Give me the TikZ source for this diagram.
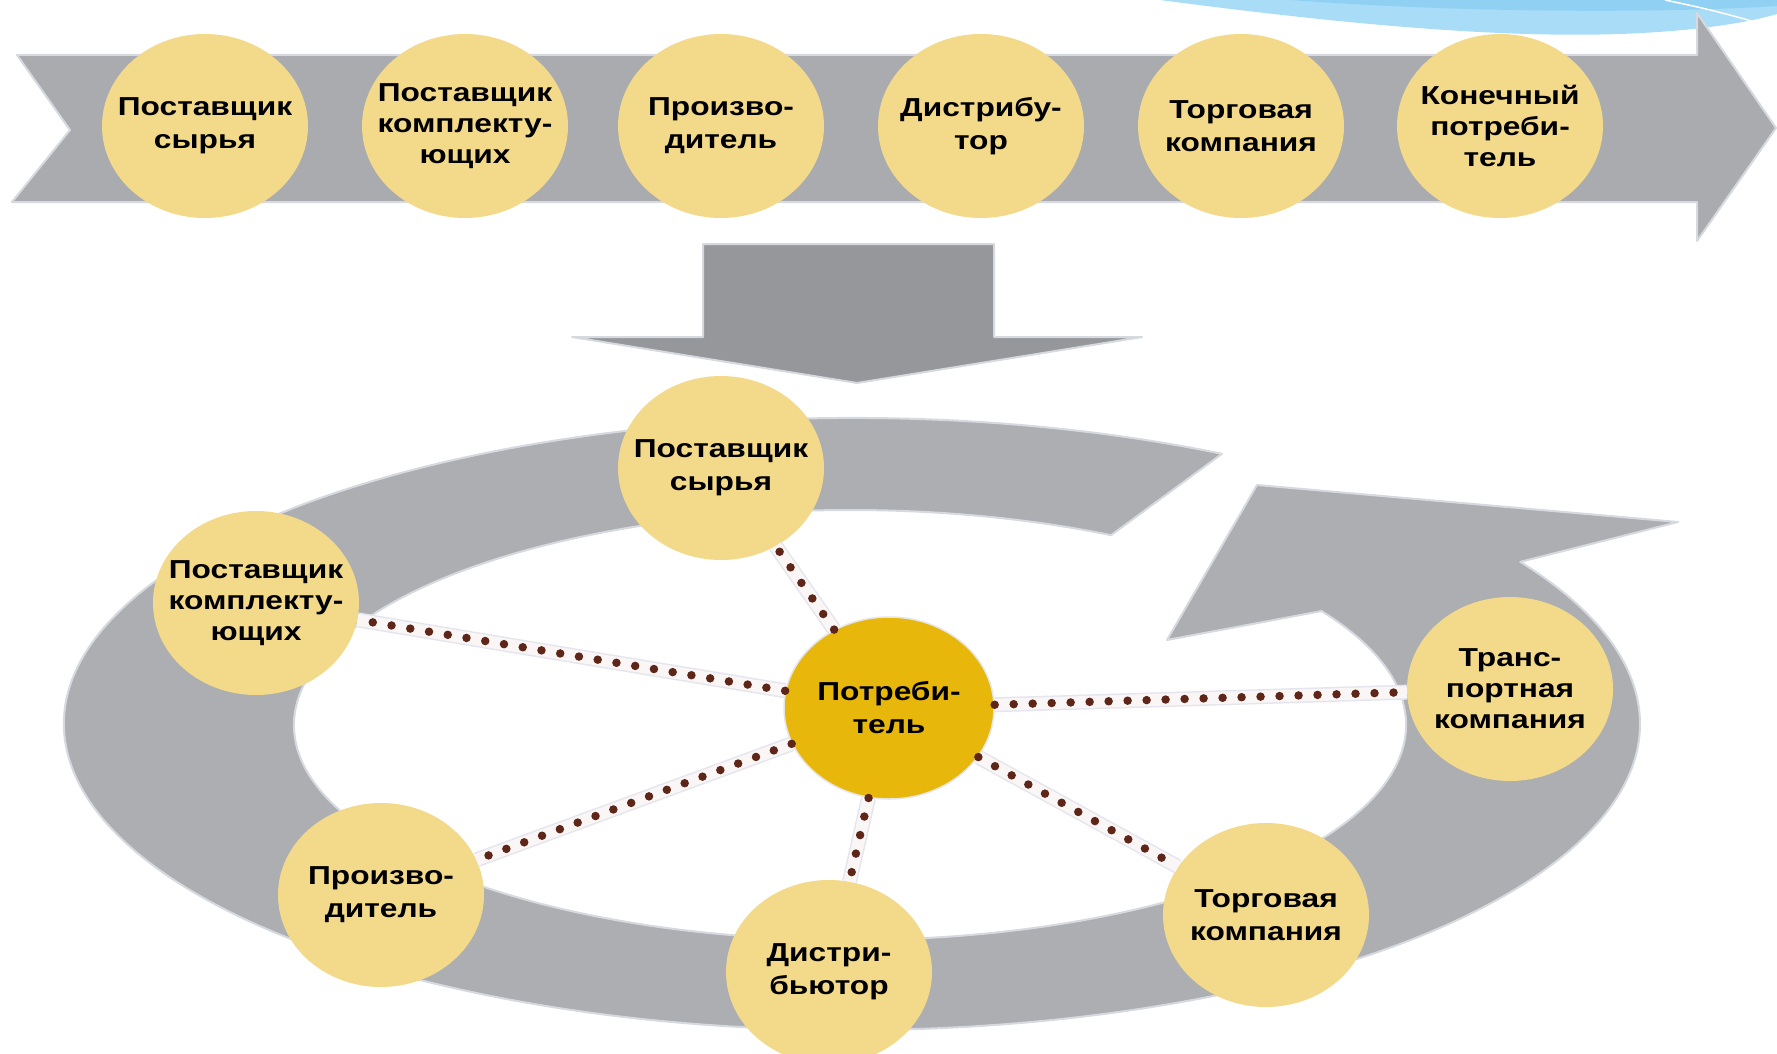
\documentclass[tikz,border=0pt]{standalone}
\usepackage{fontspec}
\setmainfont{Liberation Sans}[FakeStretch=1.22]
\usetikzlibrary{shapes.geometric}
\definecolor{bandgray}{HTML}{A9ABAF}
\definecolor{ringgray}{HTML}{ACAEB2}
\definecolor{downgray}{HTML}{96979B}
\definecolor{edgegray}{HTML}{D6D9DF}
\definecolor{bubblefill}{HTML}{F3DA8A}
\definecolor{corefill}{HTML}{E8B70C}
\definecolor{dotbrown}{HTML}{5E2618}
\definecolor{halo}{HTML}{FBF6F6}
\definecolor{haloedge}{HTML}{E4E5EF}
\definecolor{skylight}{HTML}{A9DCF7}
\definecolor{skydark}{HTML}{90D0F2}
\begin{document}
\begin{tikzpicture}[x=1pt,y=-1pt,
  bubble/.style={ellipse, fill=bubblefill, minimum width=206pt, minimum height=184pt, inner sep=0pt},
  hub/.style={ellipse, fill=corefill, draw=white!80!gray, line width=1.5pt, minimum width=210pt, minimum height=182pt, inner sep=0pt},
  caption/.style={align=center, inner sep=0pt, font=\bfseries\fontsize{26}{33}\selectfont},
  caption3/.style={align=center, inner sep=0pt, font=\bfseries\fontsize{26}{31}\selectfont},
  shapeedge/.style={draw=edgegray, line width=2pt, line join=round},
  dotline/.style={draw=dotbrown, line width=8.5pt, line cap=round, dash pattern=on 0pt off 19pt,
     preaction={draw=haloedge, line width=15pt, solid, line cap=butt},
     preaction={draw=halo, line width=12pt, solid, line cap=butt}},
]
\useasboundingbox (0,0) rectangle (1777,1054);
\fill[white] (0,0) rectangle (1777,1054);
\clip (0,0) rectangle (1777,1054);

% decorative swoosh in the upper right corner
\fill[skylight] (1160,0) .. controls (1350,25) and (1500,38) .. (1620,34)
   .. controls (1700,31) and (1750,22) .. (1777,14) -- (1777,0) -- cycle;
\fill[skydark] (1290,0) .. controls (1450,12) and (1650,14) .. (1777,6) -- (1777,0) -- cycle;
\draw[white, line width=1.5pt] (1665,0) .. controls (1712,10) .. (1777,28);

% supply chain band
\path[fill=bandgray, shapeedge] (17,55) -- (1697,55) -- (1697,13) -- (1776,128)
   -- (1697,241) -- (1697,202) -- (12,202) -- (70,130) -- cycle;

% transition arrow
\path[fill=downgray, shapeedge] (703,244) -- (994,244) -- (994,337) -- (1142,337)
   -- (857,383) -- (572,337) -- (703,337) -- cycle;

% circular flow around the consumer
\path[fill=ringgray, shapeedge]
   ([shift={(852,724)}]-62:788 and 306)
   arc[start angle=-62, end angle=-392, x radius=788, y radius=306]
   -- (1678,522) -- (1257,485) -- (1167,640)
   -- ([shift={(850,725)}]-392:556 and 215)
   arc[start angle=-392, end angle=-62, x radius=556, y radius=215] -- cycle;

% linear chain
\node[bubble] (t1) at (205,126) {};
\node[bubble] (t2) at (465,126) {};
\node[bubble] (t3) at (721,126) {};
\node[bubble] (t4) at (981,126) {};
\node[bubble] (t5) at (1241,126) {};
\node[bubble] (t6) at (1500,126) {};
\node[caption]  (t1c) at (t1) {Поставщик\\сырья};
\node[caption3] (t2c) at (t2) {Поставщик\\комплекту-\\ющих};
\node[caption]  (t3c) at (t3) {Произво-\\дитель};
\node[caption]  (t4c) at (t4) {Дистрибу-\\тор};
\node[caption]  (t5c) at (t5) {Торговая\\компания};
\node[caption3] (t6c) at (t6) {Конечный\\потреби-\\тель};

% network around the consumer
\node[hub] (hub) at (889,708) {};
\node[bubble] (l1) at (721,468) {};
\node[bubble] (l2) at (256,603) {};
\node[bubble] (l3) at (381,895) {};
\node[bubble] (l4) at (829,972) {};
\node[bubble] (l5) at (1266,915) {};
\node[bubble] (l6) at (1510,689) {};

\foreach \n in {l1,l2,l3,l4,l5,l6} \draw[dotline] (hub) -- (\n);

\node[caption]  (hubc) at (hub) {Потреби-\\тель};
\node[caption]  (l1c) at (l1) {Поставщик\\сырья};
\node[caption3] (l2c) at (l2) {Поставщик\\комплекту-\\ющих};
\node[caption]  (l3c) at (l3) {Произво-\\дитель};
\node[caption]  (l4c) at (l4) {Дистри-\\бьютор};
\node[caption]  (l5c) at (l5) {Торговая\\компания};
\node[caption3] (l6c) at (l6) {Транс-\\портная\\компания};
\end{tikzpicture}
\end{document}
